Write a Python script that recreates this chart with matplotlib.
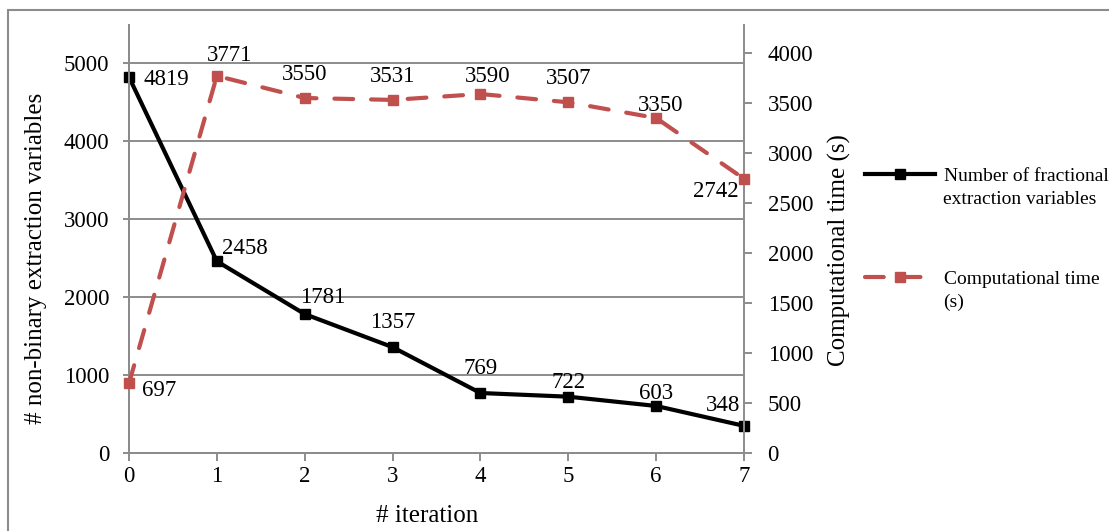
import matplotlib
matplotlib.use("Agg")
import matplotlib.pyplot as plt
from matplotlib.patches import Rectangle

iterations = [0, 1, 2, 3, 4, 5, 6, 7]
fractional_vars = [4819, 2458, 1781, 1357, 769, 722, 603, 348]
comp_time = [697, 3771, 3550, 3531, 3590, 3507, 3350, 2742]

label_frac = ["Number of fractional", "extraction variables"]
label_time = ["Computational time", "(s)"]

# label centre offsets (points) relative to the data point
black_offsets = [(26.6, 0), (20, 11.2), (13, 13.3), (0, 19.4), (0, 19.4), (0, 11.9), (0, 10.8), (-15, 16.2)]
red_offsets = [(22, -3.2), (9.4, 16.6), (0, 18.4), (0, 18.7), (5, 14.4), (0, 19), (3, 10.4), (-20.5, -7.6)]

plt.rcParams['font.family'] = ['Liberation Serif', 'DejaVu Serif']
FS = 16.5
FS_TITLE = 18
FS_LEG = 14
RED = '#C0504D'
GRID = '#8c8c8c'

fig = plt.figure(figsize=(11.09, 5.31), dpi=100)
fig.patches.append(Rectangle((8 / 1109, -0.1), 1.2, 1 - 10 / 531 + 0.1, transform=fig.transFigure,
                             fill=False, edgecolor='#8c8c8c', linewidth=1.5))

ax = fig.add_axes([129 / 1109, 1 - 453 / 531, (744 - 129) / 1109, (453 - 25) / 531])
ax2 = ax.twinx()

ax.set_xlim(0, 7)
ax.set_ylim(0, 5487)
ax2.set_ylim(0, 4280)

ax.set_yticks([0, 1000, 2000, 3000, 4000, 5000])
ax2.set_yticks([0, 500, 1000, 1500, 2000, 2500, 3000, 3500, 4000])
ax.set_xticks(iterations)

ax.yaxis.grid(True, color=GRID, linewidth=1.4)
ax.set_axisbelow(True)

for a in (ax, ax2):
    a.spines['top'].set_visible(False)
    for s in ('left', 'right', 'bottom'):
        a.spines[s].set_color(GRID)
        a.spines[s].set_linewidth(1.4)
    a.tick_params(colors=GRID, labelcolor='black', labelsize=FS, width=1.4)
ax.spines['right'].set_visible(False)
ax.tick_params(axis='y', length=4, pad=10)
ax.tick_params(axis='x', length=6, pad=3)
ax2.tick_params(axis='y', length=6, pad=11)

l1, = ax.plot(iterations, fractional_vars, color='black', linewidth=3.0, marker='s',
              markersize=7.5, clip_on=False, zorder=5)
l2, = ax2.plot(iterations, comp_time, color=RED, linewidth=3.0, marker='s', markersize=7.5,
               dashes=(4.5, 4.3), dash_capstyle='round', clip_on=False, zorder=5)

dy = -0.34 * FS
for x, v, off in zip(iterations, fractional_vars, black_offsets):
    ax.annotate(str(v), (x, v), xytext=(off[0], off[1] + dy), textcoords='offset points',
                ha='center', va='baseline', fontsize=FS, annotation_clip=False)
for x, v, off in zip(iterations, comp_time, red_offsets):
    ax2.annotate(str(v), (x, v), xytext=(off[0], off[1] + dy), textcoords='offset points',
                 ha='center', va='baseline', fontsize=FS, annotation_clip=False)

ax.set_xlabel('# iteration', fontsize=FS_TITLE)
ax.xaxis.set_label_coords((427 - 129) / 615, -(505 - 453) / 428)
ax.set_ylabel('# non-binary extraction variables', fontsize=FS_TITLE)
ax.yaxis.set_label_coords((47 - 129) / 615, (453 - 258) / 428)
ax2.set_ylabel('Computational time (s)', fontsize=FS_TITLE)
ax2.yaxis.set_label_coords((828 - 129) / 615, (453 - 250) / 428)

# legend: handle aligned with first text line, second line below
for handle, lab, ycen in ((l1, label_frac, 176), (l2, label_time, 279)):
    fig.legend(handles=[handle], labels=[lab[0]], loc='center left',
               bbox_to_anchor=(865 / 1109, 1 - ycen / 531),
               frameon=False, fontsize=FS_LEG, handlelength=3.6, handletextpad=0.45,
               borderpad=0, borderaxespad=0)
    fig.text(943 / 1109, 1 - (ycen + 23) / 531, lab[1], fontsize=FS_LEG, ha='left', va='center')

fig.savefig('out.png', dpi=100)
